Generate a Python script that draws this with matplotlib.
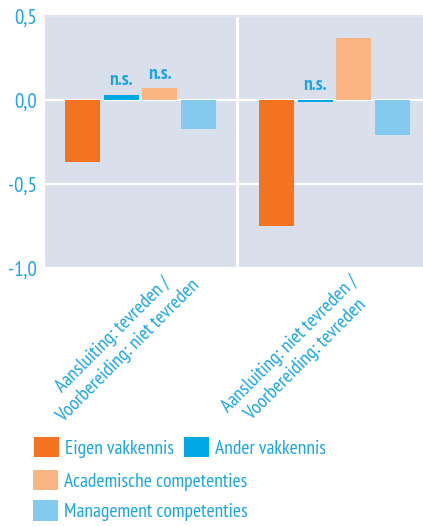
import matplotlib
matplotlib.use("Agg")
import matplotlib.pyplot as plt
from matplotlib.patches import Patch
import numpy as np

# Data
categories = ["Aansluiting: tevreden /\nVoorbereiding: niet tevreden",
              "Aansluiting: niet tevreden /\nVoorbereiding: tevreden"]
series_names = ["Eigen vakkennis", "Ander vakkennis",
                "Academische competenties", "Management competenties"]
eigen_vakkennis = [-0.37, -0.75]
ander_vakkennis = [0.03, -0.01]
academische_comp = [0.07, 0.37]
management_comp = [-0.17, -0.21]
# n.s. = not significant
ns_ander = [True, True]
ns_academisch = [True, False]
ns_eigen = [False, False]
ns_management = [False, False]

yticks = [-1.0, -0.5, 0.0, 0.5]
ytick_labels = ["-1,0", "-0,5", "0,0", "0,5"]

colors = ["#f37321", "#00a8e4", "#f9b582", "#84caef"]
text_color = "#1ba6e2"
bg_color = "#dadfec"

plt.rcParams['font.family'] = ['PT Sans Narrow', 'Roboto', 'DejaVu Sans']

values = [eigen_vakkennis, ander_vakkennis, academische_comp, management_comp]
ns_flags = [ns_eigen, ns_ander, ns_academisch, ns_management]

W, H = 423, 526
fig = plt.figure(figsize=(W / 100, H / 100), dpi=100)
ax = fig.add_axes([45 / W, 1 - 268 / H, 378 / W, 252 / H])
ax.set_facecolor(bg_color)

x = np.arange(len(categories))
width = 0.18
offsets = [-0.3, -0.1, 0.1, 0.3]
for vals, flags, off, col in zip(values, ns_flags, offsets, colors):
    bars = ax.bar(x + off, vals, width, color=col, zorder=3)
    for b, v, f in zip(bars, vals, flags):
        if f:
            ax.annotate("n.s.", (b.get_x() + b.get_width() / 2, max(v, 0)),
                        xytext=(0, 4), textcoords="offset points",
                        ha="center", va="bottom", fontsize=14,
                        color=text_color, fontweight="bold")

ax.set_xlim(-0.492, 1.456)
ax.set_ylim(-1.0, 0.5)
ax.set_yticks(yticks)
ax.set_yticklabels(ytick_labels)
ax.tick_params(axis="y", length=0, pad=6, labelsize=15, labelcolor=text_color)
ax.set_xticks([])
ax.grid(axis="y", color="white", linewidth=1.5, zorder=1)
ax.axvline(0.5, color="white", linewidth=2.2, zorder=1)
ax.set_axisbelow(True)
for s in ax.spines.values():
    s.set_visible(False)
ax.axhline(0.5, color="#e0e4ee", linewidth=1.5, zorder=2, clip_on=False)

# category labels, rotated 45 degrees
label_pos = [(121, 343), (298, 352)]
for lab, (px, py) in zip(categories, label_pos):
    fig.text(px / W, 1 - py / H, lab, rotation=45, rotation_mode="anchor",
             ha="center", va="center", multialignment="center",
             fontsize=14, color=text_color, linespacing=1.25)

# legend: first row with two entries, then one entry per row
handles = [Patch(facecolor=c, edgecolor="none") for c in colors]
leg_kw = dict(frameon=False, fontsize=14, handlelength=1.29, handleheight=1.24,
              handletextpad=0.3, borderpad=0, borderaxespad=0, labelcolor=text_color,
              loc="upper left")
leg1 = fig.legend(handles[:2], series_names[:2], ncol=2, columnspacing=0.5,
                  bbox_to_anchor=(34 / W, 1 - 437 / H), **leg_kw)
leg2 = fig.legend(handles[2:], series_names[2:], labelspacing=0.48,
                  bbox_to_anchor=(33 / W, 1 - 470 / H), **leg_kw)

fig.savefig("out.png", dpi=100)
